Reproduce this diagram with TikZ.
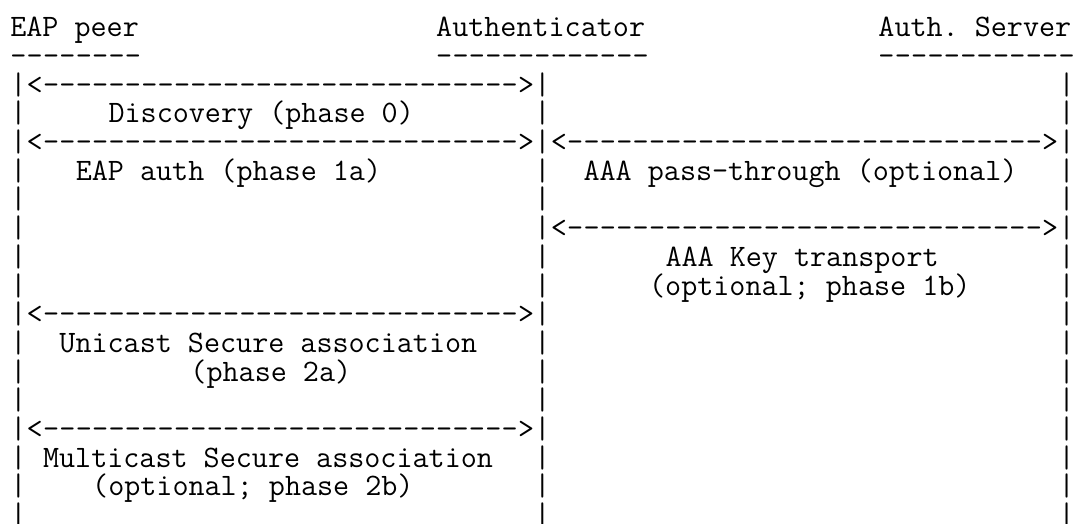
\documentclass[tikz,border=0pt]{standalone}
\newcommand\cx[1]{{10.3+(#1)*16.38}}
\newcommand\ry[1]{{-36.7-(#1)*28.7}}
\newcommand\ttcell[1]{\makebox[0.525em][l]{#1}}
\newcommand\dashn[1]{\foreach \i in {1,...,#1}{\ttcell{-}}}
\newcommand\arr{\ttcell{<}\dashn{29}\ttcell{>}}
\tikzset{
  tt/.style={anchor=base west, inner sep=0pt, outer sep=0pt,
    font=\fontsize{31.2}{31.2}\selectfont\ttfamily\frenchspacing}
}
\begin{document}
\begin{tikzpicture}[x=1pt,y=1pt]
\useasboundingbox (0,0) rectangle (1078,-524);
\clip (0,0) rectangle (1078,-524);
% headers
\node[tt] (hpeer) at (\cx{0},\ry{0}) {EAP peer};
\node[tt] (hauth) at (\cx{26},\ry{0}) {Authenticator};
\node[tt] (hsrv)  at (\cx{53},\ry{0}) {Auth. Server};
\node[tt] (upeer) at (\cx{0},\ry{1}) {\dashn{8}};
\node[tt] (uauth) at (\cx{26},\ry{1}) {\dashn{13}};
\node[tt] (usrv)  at (\cx{53},\ry{1}) {\dashn{12}};
% lifelines
\foreach \r in {2,...,17}{
  \foreach \c/\n in {0/a,32/b,64/c}{
    \node[tt] (p\n\r) at (\cx{\c},\ry{\r}) {|};
  }
}
% arrows
\node[tt] (a2)  at (\cx{1},\ry{2})  {\arr};
\node[tt] (a4l) at (\cx{1},\ry{4})  {\arr};
\node[tt] (a4r) at (\cx{33},\ry{4}) {\arr};
\node[tt] (a7)  at (\cx{33},\ry{7}) {\arr};
\node[tt] (a10) at (\cx{1},\ry{10}) {\arr};
\node[tt] (a14) at (\cx{1},\ry{14}) {\arr};
% labels
\node[tt] (l3)  at (\cx{6},\ry{3})   {Discovery (phase 0)};
\node[tt] (l5a) at (\cx{4},\ry{5})   {EAP auth (phase 1a)};
\node[tt] (l5b) at (\cx{35},\ry{5})  {AAA pass-through (optional)};
\node[tt] (l8)  at (\cx{40},\ry{8})  {AAA Key transport};
\node[tt] (l9)  at (\cx{39},\ry{9})  {(optional; phase 1b)};
\node[tt] (l11) at (\cx{3},\ry{11})  {Unicast Secure association};
\node[tt] (l12) at (\cx{11},\ry{12}) {(phase 2a)};
\node[tt] (l15) at (\cx{2},\ry{15})  {Multicast Secure association};
\node[tt] (l16) at (\cx{5},\ry{16})  {(optional; phase 2b)};
\end{tikzpicture}
\end{document}
